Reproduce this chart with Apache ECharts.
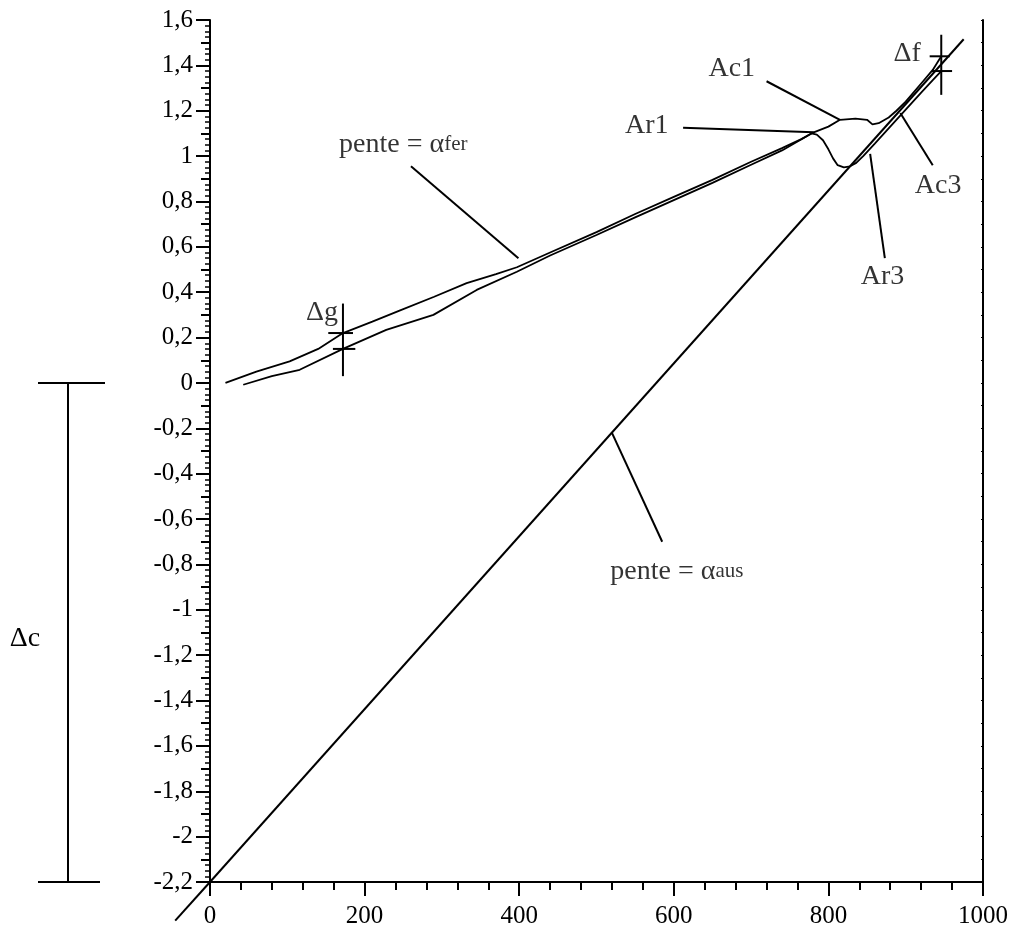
<!DOCTYPE html>
<html><head><meta charset="utf-8">
<script src="https://cdn.jsdelivr.net/npm/echarts@6/dist/echarts.min.js"></script>
<style>html,body{margin:0;padding:0;background:#fff}#c{width:1012px;height:936px}</style>
</head><body><div id="c"></div>
<script>
// ---- data (temperature °C, dilatation) ----
const xTickValues = [0, 200, 400, 600, 800, 1000];
const heatingT = [20, 60, 103, 140, 172, 210, 246, 290, 332, 370, 397, 440, 500, 550, 600, 650, 700, 740, 765, 781, 800, 815, 835, 850, 857, 865, 878, 888, 900, 920, 935, 946];
const heatingD = [0.00, 0.05, 0.095, 0.15, 0.22, 0.27, 0.32, 0.38, 0.44, 0.48, 0.51, 0.575, 0.665, 0.745, 0.82, 0.895, 0.975, 1.035, 1.075, 1.105, 1.13, 1.16, 1.165, 1.16, 1.14, 1.145, 1.17, 1.20, 1.24, 1.32, 1.38, 1.44];
const coolingT = [946, 935, 920, 900, 880, 860, 845, 836, 828, 820, 812, 806, 800, 793, 785, 778, 740, 700, 650, 600, 550, 500, 440, 397, 345, 289, 228, 172, 116, 80, 43];
const coolingD = [1.375, 1.335, 1.28, 1.205, 1.13, 1.055, 1.0, 0.97, 0.955, 0.95, 0.96, 0.99, 1.03, 1.07, 1.095, 1.10, 1.025, 0.962, 0.882, 0.806, 0.73, 0.652, 0.562, 0.49, 0.41, 0.30, 0.234, 0.15, 0.058, 0.03, -0.008];
const austeniteT = [-45, 0, 975];
const austeniteD = [-2.37, -2.2, 1.515];
const deltaG = {t: 172, top: 0.35, bottom: 0.03, heat: 0.22, cool: 0.15};
const deltaF = {t: 946, top: 1.535, bottom: 1.27, heat: 1.44, cool: 1.375};
const deltaC = {top: 0, bottom: -2.2};
// leader lines [ [t1,d1],[t2,d2] ]
const leaderAc1 = [[720, 1.33], [815, 1.16]];
const leaderAr1 = [[612, 1.125], [781, 1.105]];
const leaderAc3 = [[935, 0.96], [893, 1.19]];
const leaderAr3 = [[873, 0.55], [854, 1.01]];
const leaderFer = [[260, 0.955], [399, 0.55]];
const leaderAus = [[520, -0.22], [585, -0.70]];

const zip = (a, b) => a.map((v, i) => [v, b[i]]);
const serif = 'Liberation Serif';
const blk = '#000';

function lineSeries(data, w) {
  return {type: 'line', data: data, symbol: 'none', silent: true, clip: false,
    lineStyle: {color: blk, width: w}, animation: false, z: 3};
}
function textSeries(text, pos, size) {
  const fs = size || 28;
  return {type: 'scatter', data: [pos], symbolSize: 0, silent: true, animation: false, clip: false,
    label: {show: true, position: 'inside', formatter: text, color: blk, fontFamily: serif, fontSize: fs,
      rich: {a: {fontFamily: serif, fontSize: fs, color: blk}, s: {fontFamily: serif, fontSize: 21, color: blk}}}};
}

const austenite = zip(austeniteT, austeniteD);
const series = [
  lineSeries(zip(heatingT, heatingD), 1.8),
  lineSeries(zip(coolingT, coolingD), 1.8),
  lineSeries(austenite.slice(1), 2),
  lineSeries(leaderAc1, 2), lineSeries(leaderAr1, 2), lineSeries(leaderAc3, 2), lineSeries(leaderAr3, 2),
  lineSeries(leaderFer, 2), lineSeries(leaderAus, 2),
  lineSeries([[deltaG.t, deltaG.top], [deltaG.t, deltaG.bottom]], 2),
  lineSeries([[deltaG.t - 19, deltaG.heat], [deltaG.t + 13, deltaG.heat]], 2),
  lineSeries([[deltaG.t - 13, deltaG.cool], [deltaG.t + 16, deltaG.cool]], 2),
  lineSeries([[deltaF.t, deltaF.top], [deltaF.t, deltaF.bottom]], 2),
  lineSeries([[deltaF.t - 15, deltaF.heat], [deltaF.t + 11, deltaF.heat]], 2),
  lineSeries([[deltaF.t - 12, deltaF.cool], [deltaF.t + 14, deltaF.cool]], 2),
  textSeries('Ac1', [675, 1.385]),
  textSeries('Ar1', [565, 1.135]),
  textSeries('Ac3', [942, 0.87]),
  textSeries('Ar3', [870, 0.47]),
  textSeries('Δf', [902, 1.45]),
  textSeries('Δg', [145, 0.31]),
  textSeries('pente = {a|α}{s|fer}', [250, 1.05]),
  textSeries('pente = {a|α}{s|aus}', [604, -0.83])
];

const fmt = v => String(Math.round(v * 10) / 10).replace('.', ',');

const chart = echarts.init(document.getElementById('c'), null, {renderer: 'canvas'});
const option = {
  backgroundColor: '#fff',
  animation: false,
  grid: {left: 210, right: 29, top: 20, bottom: 54},
  xAxis: {
    type: 'value', min: xTickValues[0], max: xTickValues[xTickValues.length - 1], interval: 200,
    axisLine: {show: true, onZero: false, lineStyle: {color: blk, width: 2}},
    axisTick: {show: true, inside: false, length: 14, lineStyle: {color: blk, width: 2}},
    minorTick: {show: true, splitNumber: 5, length: 8, lineStyle: {color: blk, width: 2}},
    splitLine: {show: false},
    axisLabel: {color: blk, fontFamily: serif, fontSize: 25, margin: 22, formatter: v => String(v)}
  },
  yAxis: [{
    type: 'value', min: -2.2, max: 1.6, interval: 0.2,
    axisLine: {show: true, lineStyle: {color: blk, width: 2}},
    axisTick: {show: true, inside: false, length: 14, lineStyle: {color: blk, width: 2}},
    minorTick: {show: true, splitNumber: 8, length: 5, lineStyle: {color: blk, width: 1.5}},
    splitLine: {show: false},
    axisLabel: {color: blk, fontFamily: serif, fontSize: 25, margin: 17, formatter: fmt}
  }, {
    type: 'value', min: -2.2, max: 1.6, interval: 0.1, position: 'left', offset: 0,
    axisLine: {show: false}, axisLabel: {show: false}, splitLine: {show: false},
    axisTick: {show: true, inside: false, length: 9, lineStyle: {color: blk, width: 2}}
  }, {
    type: 'value', min: -2.2, max: 1.6, interval: 0.1, position: 'right', offset: 0,
    axisLine: {show: true, lineStyle: {color: blk, width: 2}}, axisLabel: {show: false}, splitLine: {show: false},
    axisTick: {show: true, inside: true, length: 2, lineStyle: {color: blk, width: 1}}
  }],
  series: series
};
chart.setOption(option);

// austenite line continued below the axes corner, and the Δc bracket outside the plot
const pA = chart.convertToPixel({gridIndex: 0}, austenite[0]);
const pB = chart.convertToPixel({gridIndex: 0}, austenite[1]);
const yTop = chart.convertToPixel({yAxisIndex: 0}, deltaC.top);
const yBot = chart.convertToPixel({yAxisIndex: 0}, deltaC.bottom);
chart.setOption({graphic: [
  {type: 'line', shape: {x1: pA[0], y1: pA[1], x2: pB[0], y2: pB[1]}, style: {stroke: blk, lineWidth: 2}},
  {type: 'line', shape: {x1: 68, y1: yTop, x2: 68, y2: yBot}, style: {stroke: blk, lineWidth: 2}},
  {type: 'line', shape: {x1: 38, y1: yTop, x2: 105, y2: yTop}, style: {stroke: blk, lineWidth: 2}},
  {type: 'line', shape: {x1: 38, y1: yBot, x2: 100, y2: yBot}, style: {stroke: blk, lineWidth: 2}},
  {type: 'text', x: 25, y: (yTop + yBot) / 2 + 6, style: {text: 'Δc', fill: blk, font: '28px "Liberation Serif"', textAlign: 'center', textVerticalAlign: 'middle'}}
]});
</script>
</body></html>
